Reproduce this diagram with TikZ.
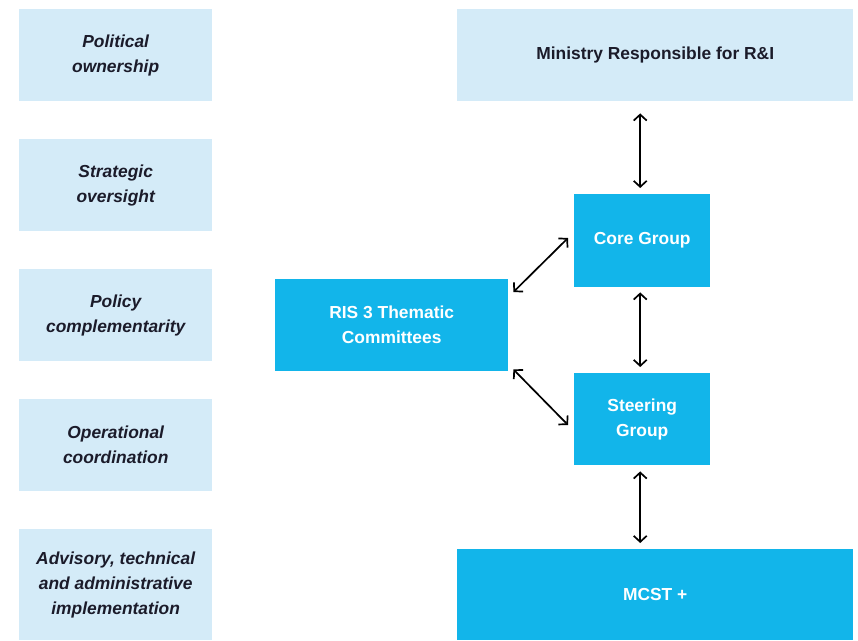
\documentclass[tikz,border=0pt]{standalone}
\usepackage{fontspec}
\setmainfont{Liberation Sans}
\usetikzlibrary{arrows.meta}
\definecolor{lightbl}{HTML}{D4EBF8}
\definecolor{brightbl}{HTML}{12B5EA}
\definecolor{darktxt}{HTML}{1B1B2A}
\begin{document}
\begin{tikzpicture}[x=1pt,y=-1pt,
  levelbox/.style={fill=lightbl,draw=none,text=darktxt,font=\fontsize{17.4}{25}\selectfont\bfseries\itshape,align=center,anchor=north west,inner sep=0pt},
  mainlight/.style={fill=lightbl,draw=none,text=darktxt,font=\fontsize{17.4}{25}\selectfont\bfseries,align=center,anchor=north west,inner sep=0pt},
  mainbox/.style={fill=brightbl,draw=none,text=white,font=\fontsize{17.4}{25}\selectfont\bfseries,align=center,anchor=north west,inner sep=0pt},
  link/.style={draw=black,line width=1.7pt,{Straight Barb[length=6pt,width=13pt]}-{Straight Barb[length=6pt,width=13pt]}}
]
\useasboundingbox (0,0) rectangle (858,640);
% left column
\node[levelbox,minimum width=193pt,minimum height=92pt] (l1) at (19,9) {Political\\ownership};
\node[levelbox,minimum width=193pt,minimum height=92pt] (l2) at (19,139) {Strategic\\oversight};
\node[levelbox,minimum width=193pt,minimum height=92pt] (l3) at (19,269) {Policy\\complementarity};
\node[levelbox,minimum width=193pt,minimum height=92pt] (l4) at (19,399) {Operational\\coordination};
\node[levelbox,minimum width=193pt,minimum height=111pt] (l5) at (19,529) {Advisory, technical\\and administrative\\implementation};
% right structure
\node[mainlight,minimum width=396pt,minimum height=92pt] (min) at (457,9) {Ministry Responsible for R\&I};
\node[mainbox,minimum width=136pt,minimum height=93pt] (core) at (574,194) {Core Group};
\node[mainbox,minimum width=136pt,minimum height=92pt] (steer) at (574,373) {Steering\\Group};
\node[mainbox,minimum width=233pt,minimum height=92pt] (ris) at (275,279) {RIS 3 Thematic\\Committees};
\node[mainbox,minimum width=396pt,minimum height=91pt] (mcst) at (457,549) {MCST +};
% connectors
\draw[link,shorten <=12pt,shorten >=6pt] ([xshift=-2pt]min.south -| core.north) -- ([xshift=-2pt]core.north);
\draw[link,shorten <=5pt,shorten >=6pt] ([xshift=-2pt]core.south) -- ([xshift=-2pt]steer.north);
\draw[link,shorten <=6pt,shorten >=6pt] ([xshift=-2pt]steer.south) -- ([xshift=-2pt]steer.south |- mcst.north);
\draw[link] ([xshift=5pt,yshift=-13pt]ris.north east) -- ([xshift=-6pt,yshift=-44pt]core.north west);
\draw[link] ([xshift=5pt,yshift=2pt]ris.south east) -- ([xshift=-6pt,yshift=-52pt]steer.north west);
\end{tikzpicture}
\end{document}
